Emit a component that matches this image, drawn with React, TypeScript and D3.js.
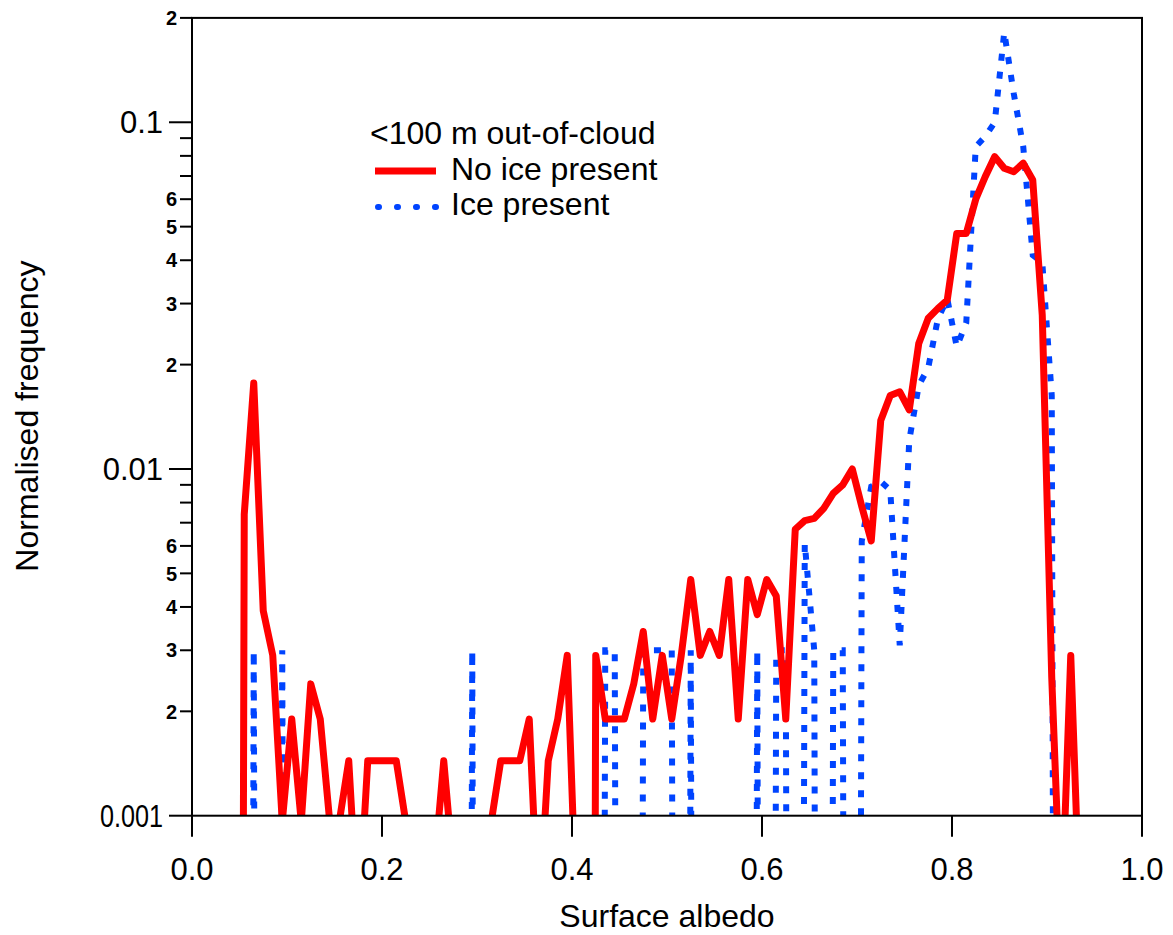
import React, { useEffect, useRef } from "react";
import * as d3 from "d3";

// bin centres (surface albedo)
const albedo = [
  0.035, 0.045, 0.055, 0.065, 0.075, 0.085, 0.095,
  0.105, 0.115, 0.125, 0.135, 0.145, 0.155, 0.165, 0.175, 0.185, 0.195,
  0.205, 0.215, 0.225, 0.235, 0.245, 0.255, 0.265, 0.275, 0.285, 0.295,
  0.305, 0.315, 0.325, 0.335, 0.345, 0.355, 0.365, 0.375, 0.385, 0.395,
  0.405, 0.415, 0.425, 0.435, 0.445, 0.455, 0.465, 0.475, 0.485, 0.495,
  0.505, 0.515, 0.525, 0.535, 0.545, 0.555, 0.565, 0.575, 0.585, 0.595,
  0.605, 0.615, 0.625, 0.635, 0.645, 0.655, 0.665, 0.675, 0.685, 0.695,
  0.705, 0.715, 0.725, 0.735, 0.745, 0.755, 0.765, 0.775, 0.785, 0.795,
  0.805, 0.815, 0.825, 0.835, 0.845, 0.855, 0.865, 0.875, 0.885, 0.895,
  0.905, 0.915, 0.925, 0.935, 0.945, 0.955,
];

// normalised frequency, no ice present
const noIce = [
  0, 0, 0.0074, 0.0177, 0.0039, 0.0029, 0.00096,
  0.0019, 0.00096, 0.0024, 0.0019, 0.00096, 0.00096, 0.00144, 0.00048, 0.00144, 0.00144,
  0.00144, 0.00144, 0.00096, 0.00048, 0.00048, 0.0007, 0.00144, 0.0007, 0.00048, 0.00048,
  0.00048, 0.00096, 0.00144, 0.00144, 0.00144, 0.0019, 0.00048, 0.00144, 0.0019, 0.0029,
  0.00048, 0, 0.0029, 0.0019, 0.0019, 0.0019, 0.0024, 0.0034, 0.0019, 0.0029,
  0.0019, 0.0029, 0.0048, 0.0029, 0.0034, 0.0029, 0.0048, 0.0019, 0.0048, 0.0038,
  0.0048, 0.0043, 0.0019, 0.0067, 0.0071, 0.0072, 0.0077, 0.0085, 0.009, 0.01,
  0.0078, 0.0062, 0.0138, 0.0163, 0.0167, 0.0148, 0.023, 0.0272, 0.029, 0.0307,
  0.0478, 0.0478, 0.06, 0.0697, 0.0796, 0.0737, 0.072, 0.0762, 0.0682, 0.0278,
  0.0025, 0.00048, 0.0029, 0.00048, 0, 0,
];

// normalised frequency, ice present
const icePresent = [
  0, 0, 0, 0.003, 0, 0, 0.003,
  0, 0, 0, 0, 0, 0, 0, 0, 0, 0,
  0, 0, 0, 0, 0, 0, 0, 0, 0, 0.003,
  0, 0, 0, 0, 0, 0, 0, 0, 0, 0,
  0, 0, 0, 0.003, 0.003, 0, 0, 0.003, 0.003, 0.003,
  0.003, 0, 0.003, 0, 0, 0, 0, 0, 0, 0.003,
  0, 0.003, 0.003, 0, 0.0061, 0.003, 0, 0.003, 0.003, 0,
  0.0062, 0.0089, 0.0092, 0.0087, 0.0031, 0.0121, 0.0174, 0.0196, 0.027, 0.031,
  0.0225, 0.0264, 0.085, 0.091, 0.1, 0.182, 0.121, 0.085, 0.0414, 0.0395,
  0.0163, 0, 0, 0, 0, 0,
];

const xTicks = [0, 0.2, 0.4, 0.6, 0.8, 1.0];
const yMajorTicks = [0.001, 0.01, 0.1];
const yMajorLabels = ["0.001", "0.01", "0.1"];
const yMinorTicks = [
  0.002, 0.003, 0.004, 0.005, 0.006, 0.007, 0.008, 0.009,
  0.02, 0.03, 0.04, 0.05, 0.06, 0.07, 0.08, 0.09, 0.2,
];
const yMinorLabels = [
  "2", "3", "4", "5", "6", "", "", "",
  "2", "3", "4", "5", "6", "", "", "", "2",
];

const FONT = "'Liberation Sans', Arial, sans-serif";
const ZERO = 1e-12; // empty bins fall far below the axis

const App = () => {
  const svgRef = useRef<SVGSVGElement>(null);

  useEffect(() => {
    const svg = d3.select(svgRef.current);
    svg.selectAll("*").remove();

    const width = 1173;
    const height = 935;
    const left = 192, right = 1142, top = 17.9, bottom = 815.7;

    svg.attr("width", width).attr("height", height);

    const x = d3.scaleLinear().domain([0, 1]).range([left, right]);
    const y = d3.scaleLog().domain([0.001, 0.2]).range([bottom, top]);

    svg.append("defs").append("clipPath").attr("id", "plot-clip")
      .append("rect")
      .attr("x", left).attr("y", top)
      .attr("width", right - left).attr("height", bottom - top);

    const line = d3.line<number>()
      .x((d, i) => x(albedo[i]))
      .y(d => y(Math.max(d, ZERO)));

    const plot = svg.append("g").attr("clip-path", "url(#plot-clip)");

    // ice present (blue dotted)
    plot.append("path")
      .datum(icePresent)
      .attr("d", line)
      .attr("fill", "none")
      .attr("stroke", "#0044ff")
      .attr("stroke-width", 6)
      .attr("stroke-dasharray", "7 11");

    // no ice present (red solid)
    plot.append("path")
      .datum(noIce)
      .attr("d", line)
      .attr("fill", "none")
      .attr("stroke", "#ff0000")
      .attr("stroke-width", 7)
      .attr("stroke-linejoin", "round");

    // frame
    svg.append("rect")
      .attr("x", left).attr("y", top)
      .attr("width", right - left).attr("height", bottom - top)
      .attr("fill", "none")
      .attr("stroke", "#000")
      .attr("stroke-width", 2);

    // x axis
    const gx = svg.append("g").attr("transform", `translate(0,${bottom})`);
    gx.selectAll("line").data(xTicks).enter().append("line")
      .attr("x1", d => x(d)).attr("x2", d => x(d))
      .attr("y1", 0).attr("y2", 21)
      .attr("stroke", "#000").attr("stroke-width", 2);
    gx.selectAll("text").data(xTicks).enter().append("text")
      .attr("x", d => x(d)).attr("y", 64)
      .attr("text-anchor", "middle")
      .attr("font-family", FONT).attr("font-size", 31)
      .text(d => d3.format(".1f")(d));

    // y axis
    const gy = svg.append("g").attr("transform", `translate(${left},0)`);
    gy.selectAll(".major").data(yMajorTicks).enter().append("line")
      .attr("class", "major")
      .attr("x1", -23).attr("x2", 0)
      .attr("y1", d => y(d)).attr("y2", d => y(d))
      .attr("stroke", "#000").attr("stroke-width", 2);
    gy.selectAll(".majorLabel").data(yMajorTicks).enter().append("text")
      .attr("class", "majorLabel")
      .attr("x", -29).attr("y", d => y(d))
      .attr("dy", "0.36em")
      .attr("text-anchor", "end")
      .attr("font-family", FONT).attr("font-size", 31)
      .attr("textLength", (d, i) => (yMajorLabels[i].length > 4 ? 63 : null))
      .attr("lengthAdjust", "spacingAndGlyphs")
      .text((d, i) => yMajorLabels[i]);
    gy.selectAll(".minor").data(yMinorTicks).enter().append("line")
      .attr("class", "minor")
      .attr("x1", -12).attr("x2", 0)
      .attr("y1", d => y(d)).attr("y2", d => y(d))
      .attr("stroke", "#000").attr("stroke-width", 2);
    gy.selectAll(".minorLabel").data(yMinorTicks).enter().append("text")
      .attr("class", "minorLabel")
      .attr("x", -15).attr("y", d => y(d))
      .attr("dy", "0.36em")
      .attr("text-anchor", "end")
      .attr("font-family", FONT).attr("font-size", 20).attr("font-weight", "bold")
      .text((d, i) => yMinorLabels[i]);

    // axis titles
    svg.append("text")
      .attr("x", (left + right) / 2).attr("y", 927)
      .attr("text-anchor", "middle")
      .attr("font-family", FONT).attr("font-size", 32)
      .text("Surface albedo");
    svg.append("text")
      .attr("transform", "translate(38,416) rotate(-90)")
      .attr("text-anchor", "middle")
      .attr("font-family", FONT).attr("font-size", 32)
      .text("Normalised frequency");

    // legend
    const legend = svg.append("g");
    legend.append("text")
      .attr("x", 370).attr("y", 144)
      .attr("font-family", FONT).attr("font-size", 32)
      .text("<100 m out-of-cloud");
    legend.append("line")
      .attr("x1", 375).attr("x2", 436).attr("y1", 171).attr("y2", 171)
      .attr("stroke", "#ff0000").attr("stroke-width", 7);
    legend.append("text")
      .attr("x", 451).attr("y", 180)
      .attr("font-family", FONT).attr("font-size", 32)
      .text("No ice present");
    legend.append("line")
      .attr("x1", 378).attr("x2", 436).attr("y1", 207).attr("y2", 207)
      .attr("stroke", "#0044ff").attr("stroke-width", 6)
      .attr("stroke-linecap", "round")
      .attr("stroke-dasharray", "1 18");
    legend.append("text")
      .attr("x", 451).attr("y", 215)
      .attr("font-family", FONT).attr("font-size", 32)
      .text("Ice present");
  }, []);

  return (
    <div style={{ position: "absolute", left: 0, top: 0 }}>
      <svg ref={svgRef}></svg>
    </div>
  );
};

export default App;
